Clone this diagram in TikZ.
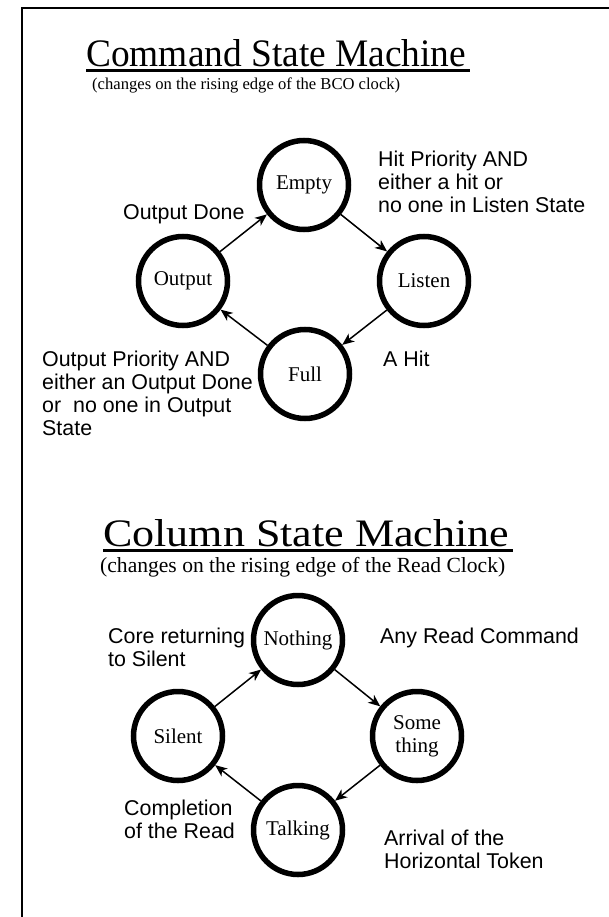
\documentclass[tikz,border=0pt]{standalone}
\usepackage{fontspec}
\setmainfont{Liberation Serif}
\newfontfamily\labelfont{Liberation Sans}
\usetikzlibrary{arrows.meta}
\begin{document}
\begin{tikzpicture}[x=1pt,y=-1pt,
  state/.style={circle, draw, line width=5.5pt, minimum size=89pt, inner sep=0pt,
    align=center, font=\fontsize{21}{23}\selectfont},
  trans/.style={line width=1.5pt, -{Stealth[length=12pt,width=10pt,inset=3.5pt]}},
  note/.style={anchor=base west, align=left, inner sep=0pt,
    font=\labelfont\fontsize{21.4}{23}\selectfont},
  heading/.style={anchor=base west, inner sep=0pt},
  rule/.style={line width=3pt}]
\useasboundingbox (0,0) rectangle (608,917);

% frame
\draw[line width=2pt] (22,940) -- (22,8) -- (640,8);

% ---- command state machine ----
\node[heading] (t1) at (86,67)
  {\resizebox{380pt}{27pt}{\fontsize{36}{36}\selectfont Command State Machine}};
\draw[rule] ([yshift=-4pt]t1.base west) -- ([yshift=-4pt,xshift=4pt]t1.base east);
\node[heading] (s1) at (92,90)
  {\resizebox{308pt}{!}{\fontsize{17}{17}\selectfont (changes on the rising edge of the BCO clock)}};

\node[state] (empty)  at (304,185) {Empty};
\node[state] (listen) at (424,281) {Listen};
\node[state] (full)   at (305,374) {Full};
\node[state] (output) at (183,281) {Output};

\draw[trans] (output) -- (empty);
\draw[trans] (empty) -- (listen);
\draw[trans] (listen) -- (full);
\draw[trans] (full) -- (output);

% multi-line notes are anchored at the baseline of their last line
\node[note] (n1) at (378,213) {Hit Priority AND\\either a hit or\\no one in Listen State};
\node[note] (n2) at (123,219) {Output Done};
\node[note] (n3) at (42,435) {Output Priority AND\\either an Output Done\\or\ \ no one in Output\\State};
\node[note] (n4) at (383,366) {A Hit};

% ---- column state machine ----
\node[heading] (t2) at (103,546)
  {\resizebox{406pt}{27pt}{\fontsize{36}{36}\selectfont Column State Machine}};
\draw[rule] ([yshift=-4pt]t2.base west) -- ([yshift=-4pt,xshift=4pt]t2.base east);
\node[heading] (s2) at (100,572)
  {\resizebox{405pt}{!}{\fontsize{21}{21}\selectfont (changes on the rising edge of the Read Clock)}};

\node[state] (nothing)   at (298,640) {Nothing};
\node[state] (something) at (417,736) {Some\\thing};
\node[state] (talking)   at (298,830) {Talking};
\node[state] (silent)    at (178,736) {Silent};

\draw[trans] (silent) -- (nothing);
\draw[trans] (nothing) -- (something);
\draw[trans] (something) -- (talking);
\draw[trans] (talking) -- (silent);

\node[note] (m1) at (108,666) {Core returning\\to Silent};
\node[note] (m2) at (380,643) {Any Read Command};
\node[note] (m3) at (124,838) {Completion\\of the Read};
\node[note] (m4) at (384,868) {Arrival of the\\Horizontal Token};
\end{tikzpicture}
\end{document}
